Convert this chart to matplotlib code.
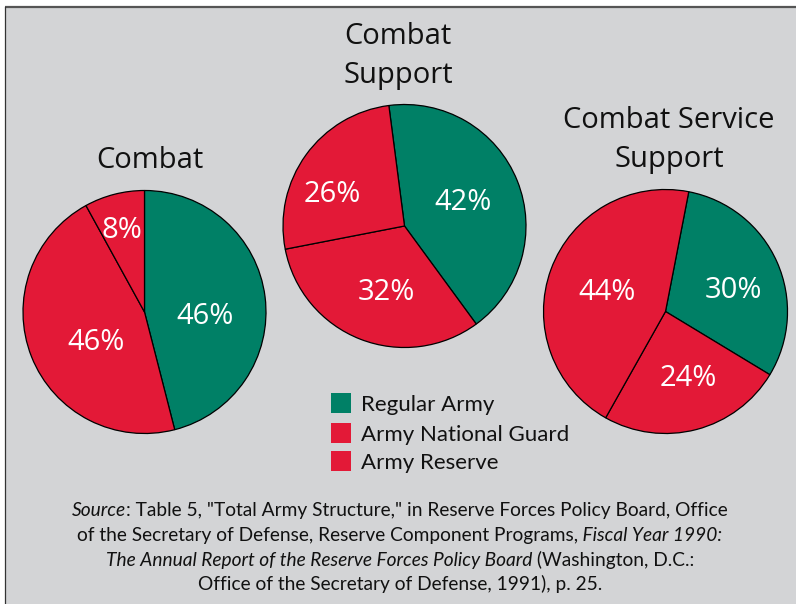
"""Army force structure by component: three pies with legend and source note."""

import matplotlib.pyplot as plt
from matplotlib.patches import Rectangle

W, H = 796, 604

TITLES = [["Combat"], ["Combat", "Support"], ["Combat Service", "Support"]]
COMPONENTS = ["Regular Army", "Army National Guard", "Army Reserve"]
COMBAT = [46, 46, 8]
COMBAT_SUPPORT = [42, 32, 26]
COMBAT_SERVICE_SUPPORT = [30, 24, 44]

SOURCE = [
    [("Source", True), (': Table 5, "Total Army Structure," in Reserve Forces '
                        "Policy Board, Office", False)],
    [("of the Secretary of Defense, Reserve Component Programs,", False),
     (" Fiscal Year 1990:", True)],
    [("The Annual Report of the Reserve Forces Policy Board", True),
     (" (Washington, D.C.:", False)],
    [("Office of the Secretary of Defense, 1991), p. 25.", False)],
]

GREEN = "#008066"
RED = "#E31937"
BG = "#D3D4D6"
COLORS = [GREEN, RED, RED]

# layout, in pixels from the top-left corner
PIES = [
    dict(center=(144.5, 312), radius=121.5, start=90,
         title_x=150, title_y=[168],
         labels=[(205, 317), (96, 343), (122, 231)]),
    dict(center=(404.5, 226), radius=121.5, start=97.4,
         title_x=398, title_y=[44, 83],
         labels=[(463, 203), (386, 292), (332, 195)]),
    dict(center=(665.5, 311.5), radius=122, start=79,
         title_x=669, title_y=[128, 167],
         labels=[(733, 290), (688, 378), (607, 292)]),
]

TITLE_FONT = "Open Sans"
BODY_FONT = "Lato"


def flip(y):
    return H - y


def mixed_line(ax, renderer, segments, xc, y, **kw):
    """Centre a line made of roman and italic pieces on xc."""
    texts = [ax.text(0, flip(y), s, style="italic" if it else "normal", **kw)
             for s, it in segments]
    widths = [t.get_window_extent(renderer).width for t in texts]
    x = xc - sum(widths) / 2
    for t, w in zip(texts, widths):
        t.set_x(x)
        x += w


fig = plt.figure(figsize=(W / 100, H / 100), dpi=100, facecolor="white")
ax = fig.add_axes([0, 0, 1, 1])

ax.add_patch(Rectangle((5, 0), W - 5, flip(7), facecolor=BG, edgecolor="none"))
ax.plot([5, W], [flip(7), flip(7)], color="#555555", lw=1.6,
        solid_capstyle="butt")
ax.plot([5, 5], [0, flip(7)], color="#333333", lw=0.9)

for values, p, title in zip(
    [COMBAT, COMBAT_SUPPORT, COMBAT_SERVICE_SUPPORT], PIES, TITLES
):
    cx, cy = p["center"]
    ax.pie(values, colors=COLORS, startangle=p["start"], counterclock=False,
           center=(cx, flip(cy)), radius=p["radius"],
           wedgeprops=dict(edgecolor="black", linewidth=0.9))
    for v, (lx, ly) in zip(values, p["labels"]):
        ax.text(lx, flip(ly), f"{v}%", color="white", fontsize=21,
                family=TITLE_FONT, ha="center", va="center")
    for line, ty in zip(title, p["title_y"]):
        ax.text(p["title_x"], flip(ty), line, fontsize=21, family=TITLE_FONT,
                ha="center", va="baseline", color="#111111")

for i, (name, col) in enumerate(zip(COMPONENTS, COLORS)):
    top = [393, 423, 451][i]
    ax.add_patch(Rectangle((331, flip(top + 20)), 20, 20, facecolor=col,
                           edgecolor="none"))
    ax.text(361, flip(top + 18), name, fontsize=16, family=BODY_FONT,
            ha="left", va="baseline", color="#111111")

renderer = fig.canvas.get_renderer()
for segs, by in zip(SOURCE, [516, 541, 566, 590]):
    mixed_line(ax, renderer, segs, 400, by, fontsize=13.8, family=BODY_FONT,
               va="baseline", color="#111111")

ax.set_xlim(0, W)
ax.set_ylim(0, H)
ax.set_aspect("auto")
ax.axis("off")

fig.savefig("out.png", dpi=100, facecolor="white")
